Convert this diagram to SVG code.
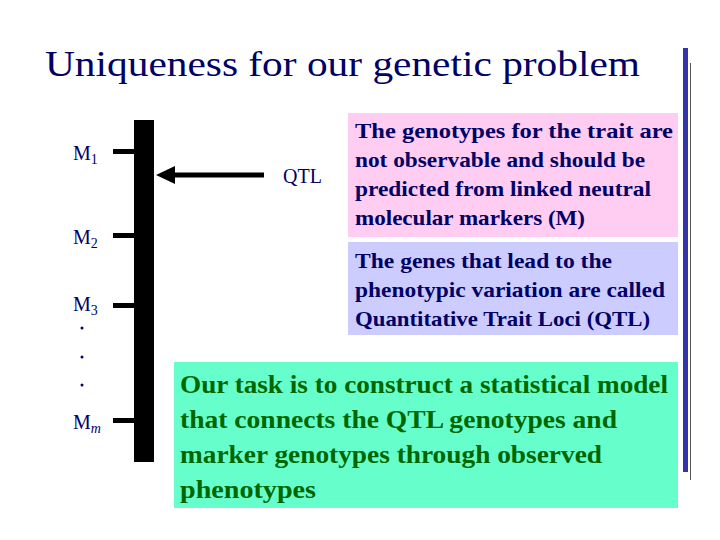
<svg xmlns="http://www.w3.org/2000/svg" width="720" height="540" viewBox="0 0 720 540">
<defs>
<style>
.t{font-family:"Liberation Serif",serif;fill:#000066}
.b{font-family:"Liberation Serif",serif;fill:#000066;font-size:22px;font-weight:bold}
.g{font-family:"Liberation Serif",serif;fill:#006600;font-size:26px;font-weight:bold}
</style>
</defs>
<rect width="720" height="540" fill="#fff"/>
<text class="t" x="45" y="76" font-size="35" textLength="595" lengthAdjust="spacingAndGlyphs">Uniqueness for our genetic problem</text>
<rect x="683" y="48" width="5" height="424" fill="#3333aa"/>
<line x1="690.5" y1="63" x2="690.5" y2="480" stroke="#555" stroke-width="1"/>
<g id="chromosome"><rect x="134" y="120" width="20" height="342" fill="#000"/></g>
<g id="markers">
<g id="m1"><rect x="113" y="149" width="21" height="5" fill="#000"/><text class="t" x="73" y="160" font-size="20">M<tspan font-size="14" dy="4">1</tspan></text></g>
<g id="m2"><rect x="113" y="233" width="21" height="5" fill="#000"/><text class="t" x="73" y="244" font-size="20">M<tspan font-size="14" dy="4">2</tspan></text></g>
<g id="m3"><rect x="113" y="303" width="21" height="5" fill="#000"/><text class="t" x="73" y="311" font-size="20">M<tspan font-size="14" dy="4">3</tspan></text></g>
<g id="dots" fill="#000066"><circle cx="82" cy="328" r="1.5"/><circle cx="82" cy="357" r="1.5"/><circle cx="82" cy="385" r="1.5"/></g>
<g id="mm"><rect x="113" y="418" width="21" height="5" fill="#000"/><text class="t" x="73" y="429" font-size="20">M<tspan font-size="14" dy="4" font-style="italic">m</tspan></text></g>
</g>
<g id="connectors"><line x1="264" y1="175" x2="172" y2="175" stroke="#000" stroke-width="5"/><polygon points="156,175 175,166 175,184" fill="#000"/></g>
<g id="qtl"><text class="t" x="283" y="183" font-size="20">QTL</text></g>
<g id="box1"><rect x="348" y="113" width="330" height="124" fill="#ffccf2"/>
<text class="b" x="355" y="138" textLength="318" lengthAdjust="spacingAndGlyphs">The genotypes for the trait are</text>
<text class="b" x="355" y="167" textLength="290" lengthAdjust="spacingAndGlyphs">not observable and should be</text>
<text class="b" x="355" y="196" textLength="296" lengthAdjust="spacingAndGlyphs">predicted from linked neutral</text>
<text class="b" x="355" y="225" textLength="230" lengthAdjust="spacingAndGlyphs">molecular markers (M)</text></g>
<g id="box2"><rect x="348" y="242" width="330" height="93" fill="#ccccff"/>
<text class="b" x="355" y="268" textLength="257" lengthAdjust="spacingAndGlyphs">The genes that lead to the</text>
<text class="b" x="355" y="297" textLength="310" lengthAdjust="spacingAndGlyphs">phenotypic variation are called</text>
<text class="b" x="355" y="326" textLength="295" lengthAdjust="spacingAndGlyphs">Quantitative Trait Loci (QTL)</text></g>
<g id="box3"><rect x="174" y="362" width="504" height="146" fill="#66ffcc"/>
<text class="g" x="180" y="393" textLength="488" lengthAdjust="spacingAndGlyphs">Our task is to construct a statistical model</text>
<text class="g" x="180" y="428" textLength="437" lengthAdjust="spacingAndGlyphs">that connects the QTL genotypes and</text>
<text class="g" x="180" y="463" textLength="422" lengthAdjust="spacingAndGlyphs">marker genotypes through observed</text>
<text class="g" x="180" y="498" textLength="136" lengthAdjust="spacingAndGlyphs">phenotypes</text></g>
</svg>
